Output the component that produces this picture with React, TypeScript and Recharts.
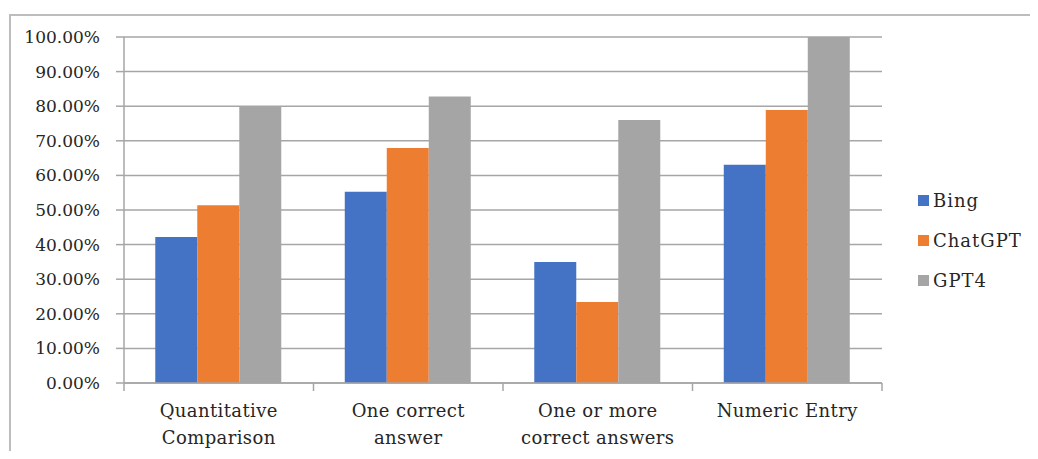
import { BarChart, Bar, XAxis, YAxis, CartesianGrid, Legend } from 'recharts'

const categories = ['Quantitative Comparison', 'One correct answer', 'One or more correct answers', 'Numeric Entry']
const categoryLines = [
  ['Quantitative', 'Comparison'],
  ['One correct', 'answer'],
  ['One or more', 'correct answers'],
  ['Numeric Entry'],
]
const bing = [42.2, 55.3, 35.0, 63.1]
const chatgpt = [51.4, 67.9, 23.4, 78.9]
const gpt4 = [79.8, 82.8, 76.0, 100]
const yTicks = [0, 10, 20, 30, 40, 50, 60, 70, 80, 90, 100]

const data = categories.map((name, i) => ({
  name,
  Bing: bing[i],
  ChatGPT: chatgpt[i],
  GPT4: gpt4[i],
}))

const W = 1022
const H = 451
const legendWidth = 110
const plotRight = 148
const margin = { top: 29, right: plotRight - legendWidth, bottom: 16, left: 36 }
const yAxisWidth = 80
const band = (W - margin.left - yAxisWidth - plotRight) / categories.length
const font = '"DejaVu Serif", serif'
const grey = '#a6a6a6'
const textColor = '#262626'

function CategoryTick(props: any) {
  const { x, y, index } = props
  const lines = categoryLines[index] || []
  const last = index === categories.length - 1
  return (
    <g>
      <line x1={x - band / 2} x2={x - band / 2} y1={y} y2={y + 8} stroke={grey} strokeWidth={1.5} />
      {last && <line x1={x + band / 2} x2={x + band / 2} y1={y} y2={y + 8} stroke={grey} strokeWidth={1.5} />}
      {lines.map((l, k) => (
        <text
          key={k}
          x={x}
          y={y + 34 + k * 27}
          textAnchor="middle"
          fontFamily={font}
          fontSize={18}
          letterSpacing={0.4}
          fill={textColor}
        >
          {l}
        </text>
      ))}
    </g>
  )
}

function LegendBox(props: any) {
  const { payload } = props
  return (
    <div style={{ fontFamily: font, fontSize: 18, letterSpacing: 1, color: textColor }}>
      {(payload || []).map((p: any) => (
        <div key={p.value} style={{ display: 'flex', alignItems: 'center', height: 40 }}>
          <span style={{ width: 11, height: 11, background: p.color, marginRight: 4, display: 'inline-block' }} />
          {p.value}
        </div>
      ))}
    </div>
  )
}

export default function App() {
  return (
    <div style={{ position: 'relative', width: W, height: 443, overflow: 'hidden' }}>
      <div
        style={{
          position: 'absolute',
          left: 1,
          top: 6,
          width: 1024,
          height: 500,
          boxSizing: 'border-box',
          border: '2px solid #bdbdbd',
        }}
      />
      <div style={{ position: 'absolute', left: 0, top: 0 }}>
        <BarChart width={W} height={H} data={data} margin={margin} barCategoryGap="16.5%" barGap={0}>
          <CartesianGrid vertical={false} stroke={grey} strokeWidth={1.5} />
          <XAxis
            dataKey="name"
            height={60}
            interval={0}
            tick={<CategoryTick />}
            tickLine={false}
            tickSize={0}
            tickMargin={0}
            axisLine={{ stroke: grey, strokeWidth: 1.5 }}
          />
          <YAxis
            width={yAxisWidth}
            domain={[0, 100]}
            ticks={yTicks}
            interval={0}
            tickFormatter={(v: number) => `${v.toFixed(2)}%`}
            tick={{ fontFamily: font, fontSize: 17, fill: textColor }}
            tickSize={8}
            tickMargin={16}
            tickLine={{ stroke: grey, strokeWidth: 1.5 }}
            axisLine={{ stroke: grey, strokeWidth: 1.5 }}
          />
          <Legend
            content={<LegendBox />}
            layout="vertical"
            align="right"
            verticalAlign="middle"
            width={legendWidth}
            wrapperStyle={{ position: 'absolute', left: 910, top: 172, width: legendWidth }}
          />
          <Bar dataKey="Bing" fill="#4472c4" isAnimationActive={false} />
          <Bar dataKey="ChatGPT" fill="#ed7d31" isAnimationActive={false} />
          <Bar dataKey="GPT4" fill="#a5a5a5" isAnimationActive={false} />
        </BarChart>
      </div>
    </div>
  )
}
